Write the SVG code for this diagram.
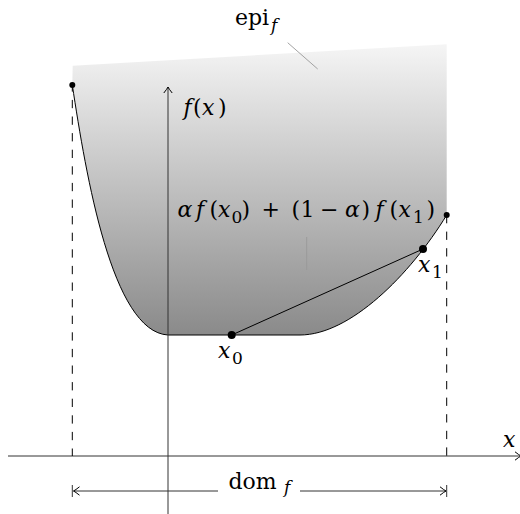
<svg xmlns="http://www.w3.org/2000/svg" width="520" height="514" viewBox="0 0 520 514">
<defs>
<linearGradient id="shade" gradientUnits="userSpaceOnUse" x1="0" y1="44" x2="0" y2="335">
<stop offset="0" stop-color="#f5f5f5"/>
<stop offset="1" stop-color="#8a8a8a"/>
</linearGradient>
<marker id="to" markerWidth="12" markerHeight="12" refX="9" refY="6" orient="auto" markerUnits="userSpaceOnUse">
<path d="M3,1.8 Q7,5 9,6 Q7,7 3,10.2" fill="none" stroke="#000" stroke-width="1"/>
</marker>
</defs>
<style>
.ax{stroke:#333;stroke-width:1;fill:none}
.dash{stroke:#000;stroke-width:1;stroke-dasharray:8.3 8.3;fill:none}
.pin{stroke:#999;stroke-width:0.9;fill:none}
.crv{stroke:#000;stroke-width:1;fill:none}
.i{font-style:italic}
.s{font-size:17px}
</style>
<g id="epigraph">
<path d="M72.7,65.7 L446.7,44.3 L446.7,215 C410,275 350,335 300,335 L168,335 C112,332 86,175 72.3,85 Z" fill="url(#shade)" stroke="none"/>
</g>
<g id="function">
<path class="crv" d="M72.3,85 C86,175 112,332 168,335 L300,335 C350,335 410,275 446.7,215"/>
<circle cx="72.3" cy="85" r="3"/>
<circle cx="446.7" cy="215" r="3"/>
</g>
<g id="axes">
<line class="ax" x1="168" y1="514" x2="168" y2="87" marker-end="url(#to)"/>
<line class="ax" x1="8" y1="456" x2="521" y2="456" marker-end="url(#to)"/>
</g>
<g id="connectors">
<line class="dash" x1="72.3" y1="85" x2="72.3" y2="456" stroke-dashoffset="1.7"/>
<line class="dash" x1="446.7" y1="215" x2="446.7" y2="456"/>
<line class="crv" x1="231.7" y1="335" x2="423" y2="249"/>
<line class="pin" x1="287.7" y1="42.7" x2="317.7" y2="69"/>
<line class="pin" x1="306.7" y1="237" x2="306.7" y2="270"/>
<g id="dom-arrows">
<line class="ax" x1="218" y1="491" x2="73.5" y2="491" marker-end="url(#to)"/>
<line class="ax" x1="300" y1="491" x2="446" y2="491" marker-end="url(#to)"/>
<line class="ax" x1="72.3" y1="485" x2="72.3" y2="497"/>
<line class="ax" x1="446.7" y1="485" x2="446.7" y2="497"/>
</g>
</g>
<g id="labels" font-family="DejaVu Serif, serif" font-size="22" fill="#000">
<g id="point-x0">
<circle cx="231.7" cy="335" r="4"/>
<text y="358"><tspan class="i" x="218">x</tspan><tspan class="s" x="232" y="364">0</tspan></text>
</g>
<g id="point-x1">
<circle cx="423" cy="249" r="4"/>
<text y="271.5"><tspan class="i" x="418">x</tspan><tspan class="s" x="432" y="277.5">1</tspan></text>
</g>
<g id="label-epi">
<text y="25"><tspan x="235">epi</tspan><tspan class="i s" x="271" y="31">f</tspan></text>
</g>
<g id="label-fx">
<text y="115"><tspan class="i" x="183.5">f</tspan><tspan x="193">(</tspan><tspan class="i" x="202">x</tspan><tspan x="218">)</tspan></text>
</g>
<g id="label-chord">
<text y="217"><tspan class="i" x="177.5 196">αf</tspan><tspan x="209.5">(</tspan><tspan class="i" x="218">x</tspan><tspan class="s" x="231.5" y="223">0</tspan><tspan x="241.5 261.5 291.5 300.5 320" y="217">)+(1−</tspan><tspan class="i" x="345">α</tspan><tspan x="361.5">)</tspan><tspan class="i" x="375.5">f</tspan><tspan x="389.5">(</tspan><tspan class="i" x="398.5">x</tspan><tspan class="s" x="413" y="223">1</tspan><tspan x="426.5" y="217">)</tspan></text>
</g>
<g id="label-x">
<text class="i" x="503" y="447">x</text>
</g>
<g id="label-dom">
<text y="488.5"><tspan x="228.5">dom</tspan><tspan class="i s" x="284" y="493">f</tspan></text>
</g>
</g>
</svg>
